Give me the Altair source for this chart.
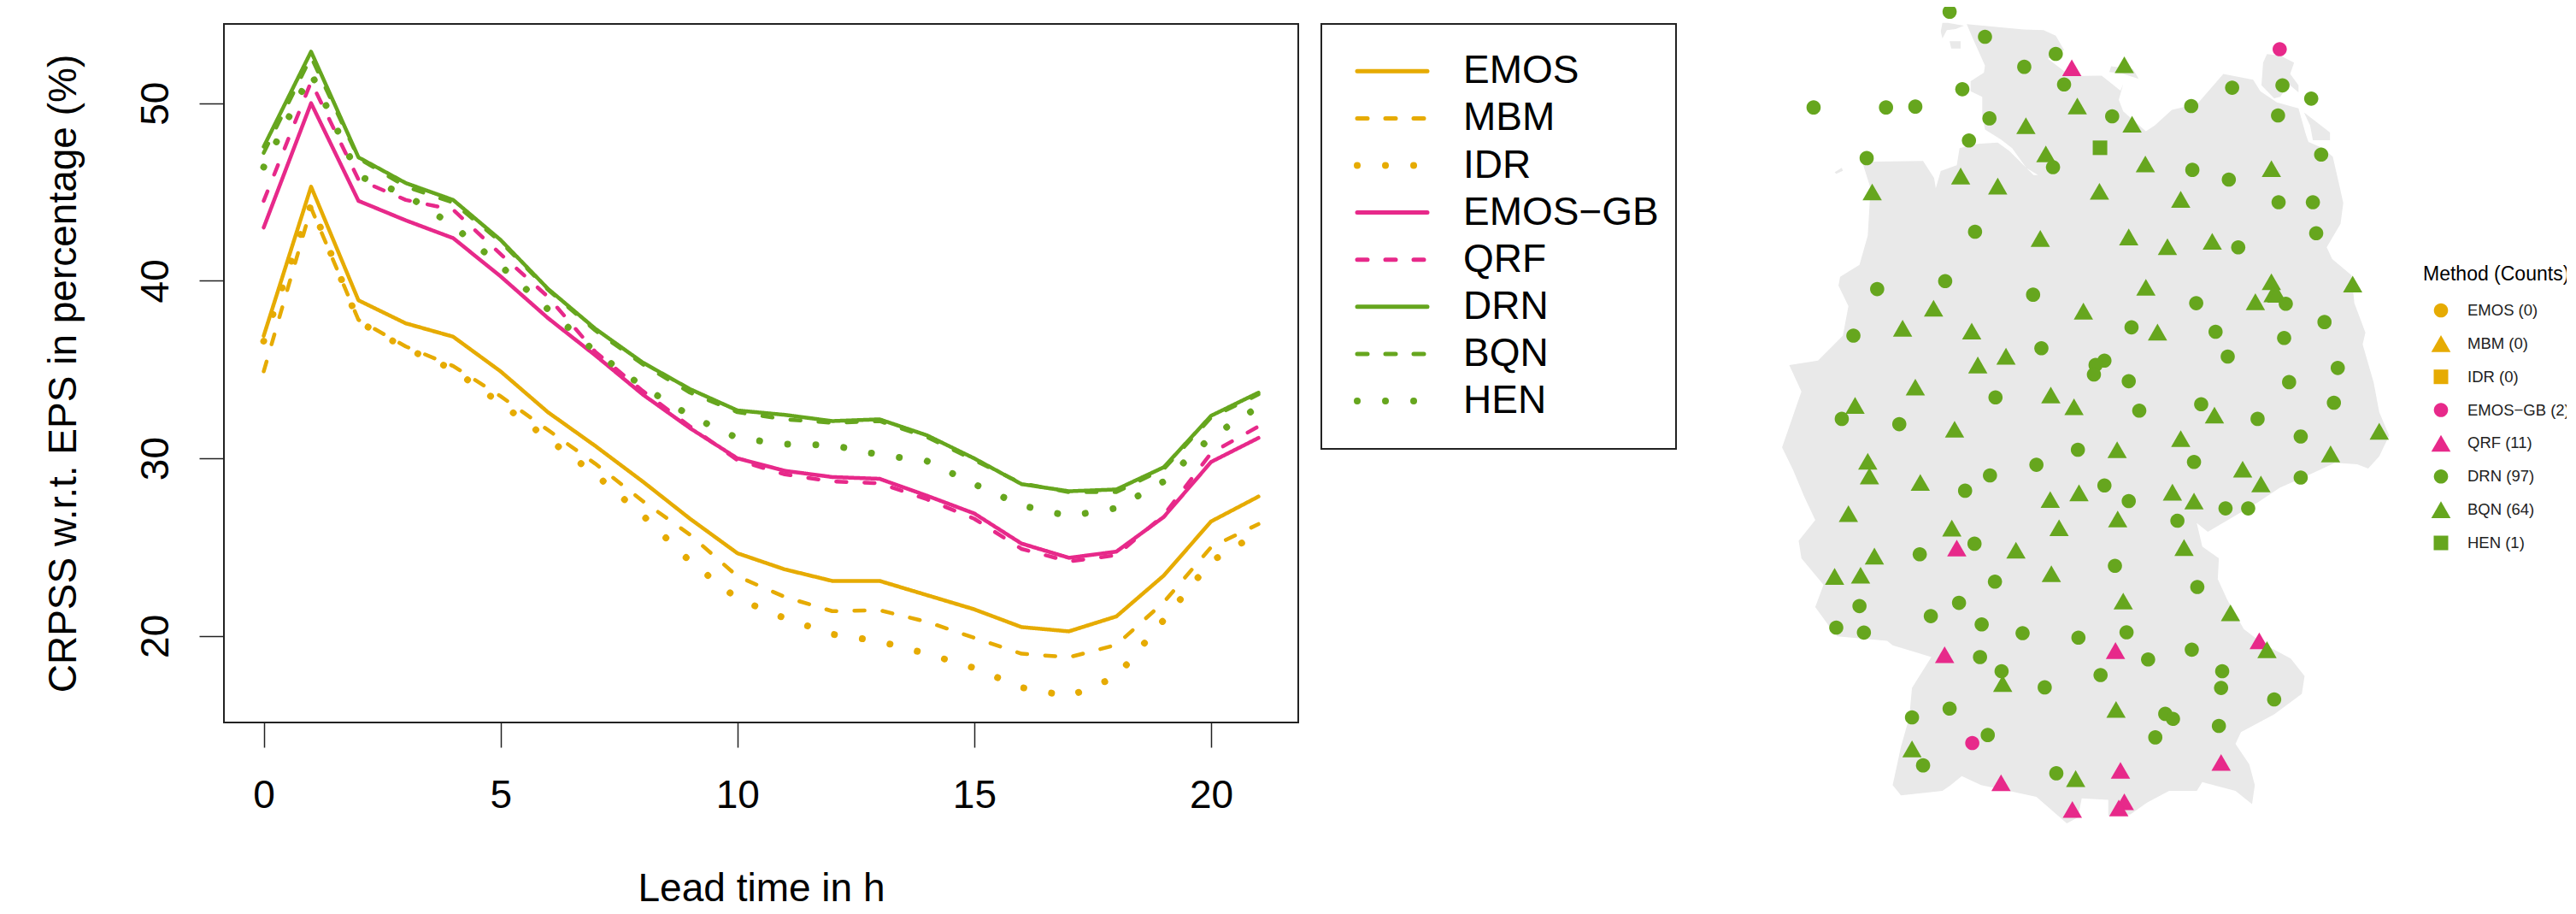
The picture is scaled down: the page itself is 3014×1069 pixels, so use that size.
import altair as alt
import pandas as pd

FONT = "Liberation Sans"
GOLD, PINK, GREEN = "#E6AB02", "#E7298A", "#66A61E"

# ---- left panel: CRPSS by lead time ----
lead_time = list(range(22))
methods = ["EMOS", "MBM", "IDR", "EMOS\u2212GB", "QRF", "DRN", "BQN", "HEN"]
line_colors = [GOLD, GOLD, GOLD, PINK, PINK, GREEN, GREEN, GREEN]
dash_styles = [[1, 0], [12, 21], [0.01, 33], [1, 0], [12, 21], [1, 0], [12, 21], [0.01, 33]]

emos = [36.9, 45.3, 38.9, 37.6, 36.85, 34.9, 32.6, 30.7, 28.7, 26.6, 24.66, 23.75, 23.1, 23.1, 22.3, 21.5, 20.5, 20.26, 21.1, 23.4, 26.45, 27.85]
mbm = [34.9, 44.1, 37.8, 36.3, 35.2, 33.5, 31.6, 29.7, 27.6, 25.7, 23.36, 22.2, 21.4, 21.45, 20.8, 19.9, 19.0, 18.8, 19.5, 21.9, 25.0, 26.3]
idr = [36.6, 44.3, 37.7, 36.2, 35.0, 33.1, 31.1, 29.1, 26.8, 24.2, 22.1, 21.0, 20.1, 19.7, 19.0, 18.2, 17.1, 16.6, 17.7, 20.9, 24.2, 25.8]
emos_gb = [43.0, 50.0, 44.5, 43.4, 42.4, 40.25, 37.9, 35.8, 33.6, 31.7, 30.0, 29.3, 28.95, 28.85, 27.9, 26.9, 25.2, 24.4, 24.75, 26.7, 29.8, 31.15]
qrf = [44.5, 51.2, 45.7, 44.55, 44.0, 41.5, 39.1, 36.0, 33.8, 31.8, 29.9, 29.1, 28.7, 28.6, 27.7, 26.6, 24.9, 24.2, 24.55, 26.8, 30.3, 31.8]
drn = [47.55, 52.9, 46.95, 45.5, 44.55, 42.3, 39.55, 37.3, 35.4, 33.9, 32.7, 32.45, 32.1, 32.2, 31.3, 30.0, 28.55, 28.15, 28.25, 29.5, 32.4, 33.7]
bqn = [47.2, 52.6, 46.9, 45.3, 44.4, 42.2, 39.5, 37.2, 35.3, 33.7, 32.6, 32.2, 32.0, 32.1, 31.2, 29.9, 28.6, 28.1, 28.1, 29.4, 32.3, 33.6]
hen = [46.4, 51.7, 45.9, 44.85, 43.1, 40.85, 38.4, 36.0, 34.05, 32.4, 31.15, 30.8, 30.75, 30.2, 29.85, 28.55, 27.35, 26.75, 27.2, 28.7, 31.2, 32.9]
series = [emos, mbm, idr, emos_gb, qrf, drn, bqn, hen]

rows = []
for name, values in zip(methods, series):
    for t, v in zip(lead_time, values):
        rows.append({"lead": t, "crpss": v, "method": name})
lines_df = pd.DataFrame(rows)

color_enc = alt.Color("method:N", scale=alt.Scale(domain=methods, range=line_colors), legend=None)
dash_enc = alt.StrokeDash("method:N", scale=alt.Scale(domain=methods, range=dash_styles), legend=None)
dotted = "datum.method === 'IDR' || datum.method === 'HEN'"

main = (
    alt.Chart(lines_df)
    .mark_line(strokeCap="round", strokeJoin="round")
    .encode(
        x=alt.X(
            "lead:Q",
            scale=alt.Scale(domain=[-0.84, 21.84], nice=False, zero=False),
            axis=alt.Axis(
                values=[0, 5, 10, 15, 20], title="Lead time in h", grid=False, domain=False,
                tickSize=29, tickWidth=1.5, tickColor="#222", labelFontSize=46, titleFontSize=46,
                labelFont=FONT, titleFont=FONT, titleFontWeight="normal", labelColor="#000", titleColor="#000",
                labelPadding=34, titlePadding=64, labelFlush=False, labelOverlap=False,
            ),
        ),
        y=alt.Y(
            "crpss:Q",
            scale=alt.Scale(domain=[15.13, 54.46], nice=False, zero=False),
            axis=alt.Axis(
                values=[20, 30, 40, 50], title="CRPSS w.r.t. EPS in percentage (%)", grid=False, domain=False,
                tickSize=29, tickWidth=1.5, tickColor="#222", labelFontSize=46, titleFontSize=46,
                labelFont=FONT, titleFont=FONT, titleFontWeight="normal", labelColor="#000", titleColor="#000",
                labelAngle=270, labelAlign="center", labelBaseline="bottom", labelPadding=27, titlePadding=61,
                labelOverlap=False,
            ),
        ),
        color=color_enc,
        strokeDash=dash_enc,
        strokeWidth=alt.condition(dotted, alt.value(8), alt.value(4.5)),
        detail="method:N",
    )
    .properties(width=1257, height=817, view=alt.ViewConfig(stroke="#222", strokeWidth=2))
)

# ---- line key panel ----
key_df = pd.DataFrame({"method": methods})
key_y = alt.Y("method:N", sort=methods, scale=alt.Scale(type="point", domain=methods, range=[55.3, 441], padding=0), axis=None)
key_rules = (
    alt.Chart(key_df)
    .mark_rule(strokeCap="round")
    .encode(
        y=key_y,
        x=alt.value(42),
        x2=alt.value(124),
        color=color_enc,
        strokeDash=dash_enc,
        strokeWidth=alt.condition(dotted, alt.value(8), alt.value(5)),
    )
)
key_text = (
    alt.Chart(key_df)
    .mark_text(align="left", baseline="middle", fontSize=46, font=FONT, color="#000")
    .encode(y=key_y, x=alt.value(166), text="method:N")
)
key = alt.layer(key_rules, key_text).properties(width=415, height=497, view=alt.ViewConfig(stroke="#222", strokeWidth=2))

# ---- right panel: station map, in map grid units ----
land_x = [464, 474, 497, 495, 471, 471, 492, 492, 497, 526, 546, 572, 593, 585, 567, 541, 520, 484, 451, 446, 417, 408, 405, 385, 275, 290, 285, 270, 235, 232, 250, 240, 195, 143, 165, 130, 150, 170, 190, 160, 165, 205, 190, 215, 230, 320, 330, 400, 365, 360, 345, 330, 345, 420, 435, 455, 490, 540, 590, 645, 665, 672, 720, 720, 760, 790, 830, 880, 890, 950, 980, 985, 975, 950, 960, 1020, 1070, 1075, 1050, 1000, 965, 935, 918, 920, 890, 880, 900, 990, 1030, 1090, 1130, 1170, 1190, 1210, 1228, 1210, 1200, 1180, 1185, 1165, 1160, 1125, 1115, 1140, 1145, 1139, 1126, 1108, 1082, 1077, 1064, 1025, 995, 982, 928, 881, 835, 804, 788, 747, 739, 747, 742, 708, 670, 640, 611, 640, 625, 603, 567, 520]
land_y = [82, 126, 223, 247, 276, 310, 329, 387, 440, 474, 503, 571, 595, 595, 561, 513, 484, 489, 503, 561, 581, 640, 605, 547, 550, 640, 800, 900, 940, 970, 1040, 1140, 1225, 1240, 1330, 1520, 1597, 1687, 1767, 1837, 1897, 1987, 2062, 2127, 2162, 2177, 2192, 2232, 2337, 2437, 2537, 2667, 2702, 2687, 2667, 2637, 2667, 2687, 2707, 2797, 2777, 2712, 2717, 2772, 2767, 2727, 2687, 2687, 2657, 2687, 2732, 2667, 2597, 2527, 2487, 2427, 2357, 2297, 2237, 2187, 2137, 2037, 1967, 1897, 1857, 1777, 1807, 1707, 1657, 1607, 1572, 1577, 1592, 1550, 1480, 1400, 1300, 1170, 1130, 1030, 935, 880, 840, 760, 690, 639, 532, 503, 482, 455, 368, 348, 310, 271, 251, 353, 373, 426, 446, 378, 339, 285, 308, 257, 258, 242, 200, 170, 121, 102, 100]
sylt_x = [420, 430, 459, 444, 428, 420, 417]
sylt_y = [78, 78, 87, 99, 102, 131, 107]
foehr_x = [433, 453, 453, 436]
foehr_y = [140, 140, 165, 165]
fehmarn_x = [725, 765, 775, 745, 722]
fehmarn_y = [225, 235, 268, 250, 245]
ruegen_x = [1007, 1031, 1056, 1049, 1064, 1064, 1046, 1031, 1020, 997, 1000]
ruegen_y = [184, 189, 213, 251, 290, 314, 285, 329, 334, 290, 213]
usedom_x = [1074, 1121, 1121, 1090, 1085]
usedom_y = [382, 450, 476, 476, 426]
borkum_x = [225, 238, 240, 228]
borkum_y = [585, 570, 580, 590]

shapes = []
for part, xs, ys in [
    ("land", land_x, land_y), ("sylt", sylt_x, sylt_y), ("foehr", foehr_x, foehr_y),
    ("fehmarn", fehmarn_x, fehmarn_y), ("ruegen", ruegen_x, ruegen_y),
    ("usedom", usedom_x, usedom_y), ("borkum", borkum_x, borkum_y),
]:
    for i, (a, b) in enumerate(zip(xs, ys)):
        shapes.append({"part": part, "i": i, "mx": a, "my": b})
shape_df = pd.DataFrame(shapes)

drn_x = [433, 497, 625, 568, 640, 456, 187, 318, 371, 505, 727, 468, 283, 620, 872, 938, 944, 870, 1035, 1087, 1027, 1105, 1028, 1090, 479, 1096, 955, 425, 302, 584, 879, 1041, 1111, 762, 914, 1038, 259, 599, 936, 713, 697, 694, 757, 1135, 1047, 516, 1128, 888, 776, 990, 238, 342, 1068, 665, 875, 590, 506, 461, 713, 757, 1068, 932, 973, 845, 478, 379, 732, 515, 881, 450, 270, 399, 491, 228, 278, 565, 666, 753, 871, 488, 792, 527, 706, 926, 924, 605, 1020, 433, 365, 823, 837, 920, 502, 805, 385, 626]
drn_y = [40, 125, 183, 227, 287, 303, 365, 365, 362, 402, 395, 477, 537, 568, 577, 610, 298, 360, 290, 335, 392, 525, 687, 687, 787, 792, 840, 955, 982, 1001, 1030, 1032, 1094, 1112, 1127, 1148, 1140, 1183, 1211, 1225, 1240, 1272, 1295, 1250, 1298, 1350, 1368, 1373, 1395, 1423, 1423, 1441, 1483, 1528, 1569, 1579, 1615, 1667, 1649, 1702, 1622, 1727, 1727, 1769, 1847, 1883, 1922, 1976, 1994, 2048, 2059, 2093, 2121, 2132, 2149, 2151, 2166, 2148, 2207, 2232, 2240, 2280, 2293, 2280, 2337, 2335, 2376, 2407, 2437, 2425, 2442, 2466, 2497, 2505, 2600, 2627]
bqn_x = [749, 664, 571, 763, 607, 787, 1015, 453, 520, 704, 293, 851, 597, 757, 827, 908, 1015, 1162, 788, 1018, 1025, 986, 404, 675, 348, 473, 809, 535, 484, 371, 616, 658, 262, 912, 442, 851, 736, 1210, 1122, 285, 288, 380, 963, 996, 615, 667, 836, 875, 737, 250, 437, 631, 857, 553, 297, 225, 272, 617, 747, 941, 1007, 529, 734, 365, 661]
bqn_y = [220, 360, 427, 422, 523, 557, 573, 598, 632, 650, 652, 677, 810, 805, 838, 820, 957, 965, 976, 998, 1000, 1025, 1047, 1057, 1115, 1125, 1128, 1210, 1240, 1315, 1342, 1382, 1377, 1410, 1458, 1490, 1528, 1465, 1542, 1567, 1617, 1639, 1594, 1644, 1697, 1674, 1672, 1702, 1763, 1745, 1794, 1793, 1860, 1869, 1889, 1958, 1954, 1949, 2042, 2082, 2207, 2322, 2410, 2544, 2645]
qrf_x = [654, 446, 424, 733, 993, 924, 742, 526, 655, 749, 739]
qrf_y = [230, 1862, 2224, 2210, 2177, 2590, 2617, 2659, 2750, 2724, 2745]
emos_gb_x = [1030, 474]
emos_gb_y = [167, 2524]
hen_x = [705]
hen_y = [502]

station_labels = ["EMOS (0)", "MBM (0)", "IDR (0)", "EMOS\u2212GB (2)", "QRF (11)", "DRN (97)", "BQN (64)", "HEN (1)"]
CIRCLE = "M-0.83,0A0.83,0.83,0,1,1,0.83,0A0.83,0.83,0,1,1,-0.83,0Z"
TRIANGLE = "M0,-0.98L1.13,0.98L-1.13,0.98Z"
SQUARE = "M-0.85,-0.85H0.85V0.85H-0.85Z"
station_shapes = [CIRCLE, TRIANGLE, SQUARE, CIRCLE, TRIANGLE, CIRCLE, TRIANGLE, SQUARE]

rows = []
for rank, (label, xs, ys) in enumerate([
    (station_labels[3], emos_gb_x, emos_gb_y), (station_labels[4], qrf_x, qrf_y),
    (station_labels[7], hen_x, hen_y), (station_labels[6], bqn_x, bqn_y), (station_labels[5], drn_x, drn_y),
]):
    for a, b in zip(xs, ys):
        rows.append({"mx": a, "my": b, "label": label, "rank": rank})
station_df = pd.DataFrame(rows)

map_x = alt.Scale(domain=[-21.6, 1283], nice=False, zero=False)
map_y = alt.Scale(domain=[2832, 81.3], nice=False, zero=False)
station_color = alt.Color("label:N", scale=alt.Scale(domain=station_labels, range=line_colors), legend=None)
station_shape = alt.Shape("label:N", scale=alt.Scale(domain=station_labels, range=station_shapes), legend=None)

land = (
    alt.Chart(shape_df)
    .mark_line(strokeWidth=0)
    .encode(
        x=alt.X("mx:Q", scale=map_x, axis=None),
        y=alt.Y("my:Q", scale=map_y, axis=None),
        order="i:Q",
        detail="part:N",
        fill=alt.value("#E9E9E9"),
    )
)
points = (
    alt.Chart(station_df)
    .mark_point(filled=True, opacity=1, strokeWidth=0, size=400)
    .encode(
        x=alt.X("mx:Q", scale=map_x, axis=None),
        y=alt.Y("my:Q", scale=map_y, axis=None),
        color=station_color,
        shape=station_shape,
        order=alt.Order("rank:Q"),
    )
)

# station key, beside the map
station_key_df = pd.DataFrame({"label": station_labels})
station_key_y = alt.Y(
    "label:N", sort=station_labels,
    scale=alt.Scale(type="point", domain=station_labels, range=[335, 607], padding=0), axis=None,
)
station_key_symbols = (
    alt.Chart(station_key_df)
    .mark_point(filled=True, opacity=1, strokeWidth=0, size=400)
    .encode(x=alt.value(869), y=station_key_y, color=station_color, shape=station_shape)
)
station_key_text = (
    alt.Chart(station_key_df)
    .mark_text(align="left", baseline="middle", fontSize=18.5, font=FONT, color="#222")
    .encode(x=alt.value(900), y=station_key_y, text="label:N")
)
station_key_title = (
    alt.Chart(pd.DataFrame({"t": ["Method (Counts)"]}))
    .mark_text(align="left", baseline="middle", fontSize=23, font=FONT, color="#000")
    .encode(x=alt.value(848), y=alt.value(293), text="t:N")
)

map_panel = (
    alt.layer(land, points, station_key_symbols, station_key_text, station_key_title)
    .resolve_scale(y="independent")
    .properties(width=844, height=947)
)

chart = (
    alt.hconcat(main, key, map_panel, spacing=25)
    .configure_view(stroke=None)
    .properties(padding={"top": -3, "left": 42, "right": -4, "bottom": 0}, background="white")
)
chart.save("out.html", embed_options={"renderer": "svg", "actions": False})
